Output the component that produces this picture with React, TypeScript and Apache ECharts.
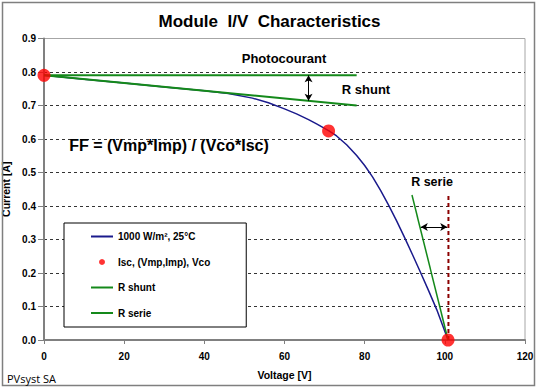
import React, { useEffect, useRef } from "react";
import * as echarts from "echarts";

const ivVoltage = [0, 10, 20, 30, 40, 46, 52, 56, 60, 63, 66, 68, 71, 73, 75.5, 78, 80, 82, 84, 86, 88, 90, 92, 94, 96, 98, 100.8];
const ivCurrent = [0.79, 0.7785, 0.767, 0.755, 0.744, 0.736, 0.722, 0.708, 0.69, 0.675, 0.658, 0.645, 0.625, 0.609, 0.583, 0.551, 0.521, 0.486, 0.446, 0.402, 0.355, 0.305, 0.253, 0.2, 0.146, 0.09, 0];

const keyPointsV = [0, 71, 100.8];
const keyPointsI = [0.79, 0.624, 0];

const shuntV = [0, 78];
const shuntI = [0.79, 0.7];
const photoV = [0, 78];
const photoI = [0.79, 0.79];
const serieV = [91.8, 100.8];
const serieI = [0.433, 0];
const vocLineV = [100.9, 100.9];
const vocLineI = [0, 0.43];

const arrowShunt = { v: 66, from: 0.79, to: 0.714 };
const arrowSerie = { i: 0.337, from: 94, to: 100.6 };

const xTicks = { min: 0, max: 120, interval: 20 };
const yTicks = { min: 0, max: 0.9, interval: 0.1 };

const seriesNames = ["1000 W/m², 25°C", "Isc, (Vmp,Imp), Vco", "R shunt", "R serie"];

const FONT = "Liberation Sans, Arial, sans-serif";
const GREEN = "#14891a";
const LINE_ICON = "path://M0,0L22,0L22,2L0,2Z";

function pairs(xs: number[], ys: number[]) {
  return xs.map((x, i) => [x, ys[i]]);
}

export default function App() {
  const ref = useRef<HTMLDivElement>(null);
  useEffect(() => {
    if (!ref.current) return;
    const chart = echarts.init(ref.current, null, { renderer: "svg" });
    const gridColors = ["transparent", "#333", "#333", "#333", "#333", "#333", "#333", "#333", "#333", "transparent"];
    chart.setOption({
      animation: false,
      backgroundColor: "#fff",
      title: {
        text: "Module  I/V  Characteristics",
        left: "center",
        top: 8,
        textStyle: { fontFamily: FONT, fontSize: 17, fontWeight: "bold", color: "#000" },
      },
      grid: {
        left: 44,
        right: 14,
        top: 38.5,
        bottom: 50,
        show: true,
        borderColor: "#a6a6a6",
        borderWidth: 1,
        backgroundColor: "transparent",
        containLabel: false,
        outerBoundsMode: "none",
      },
      legend: {
        orient: "vertical",
        left: 64,
        top: 223,
        data: [
          { name: seriesNames[0], icon: LINE_ICON },
          { name: seriesNames[1], icon: "circle" },
          { name: seriesNames[2], icon: LINE_ICON },
          { name: seriesNames[3], icon: LINE_ICON },
        ],
        selectedMode: false,
        itemWidth: 22,
        itemHeight: 6,
        itemGap: 13.5,
        padding: [7.5, 36, 8, 27],
        borderColor: "#000",
        borderWidth: 1,
        backgroundColor: "#fff",
        textStyle: { fontFamily: FONT, fontSize: 10, fontWeight: "bold", color: "#000", lineHeight: 12 },
      },
      xAxis: {
        type: "value",
        min: xTicks.min,
        max: xTicks.max,
        interval: xTicks.interval,
        name: "Voltage [V]",
        nameLocation: "middle",
        nameGap: 29,
        nameTextStyle: { fontFamily: FONT, fontSize: 10.5, fontWeight: "bold", color: "#000" },
        axisLine: { show: true, lineStyle: { color: "#808080", width: 2 } },
        axisTick: { show: true, length: 4, lineStyle: { color: "#808080" } },
        axisLabel: { fontFamily: FONT, fontSize: 10, fontWeight: "bold", color: "#000", margin: 11 },
        splitLine: { show: false },
      },
      yAxis: {
        type: "value",
        min: yTicks.min,
        max: yTicks.max,
        interval: yTicks.interval,
        name: "Current [A]",
        nameLocation: "middle",
        nameGap: 27,
        nameTextStyle: { fontFamily: FONT, fontSize: 10.5, fontWeight: "bold", color: "#000" },
        axisLine: { show: true, lineStyle: { color: "#808080", width: 2 } },
        axisTick: { show: true, length: 6, lineStyle: { color: "#808080" } },
        axisLabel: {
          fontFamily: FONT,
          fontSize: 10,
          fontWeight: "bold",
          color: "#000",
          margin: 8,
          formatter: (v: number) => v.toFixed(1),
        },
        splitLine: { show: true, lineStyle: { color: gridColors, type: [3, 3], width: 1 } },
      },
      graphic: [
        {
          type: "rect",
          shape: { x: 2.5, y: 2.5, width: 532, height: 383 },
          style: { fill: "none", stroke: "#7f7f7f", lineWidth: 1.5 },
          z: 100,
        },
        {
          type: "text",
          x: 284,
          y: 58,
          style: { text: "Photocourant", font: `bold 13px ${FONT}`, fill: "#000", align: "center", verticalAlign: "middle" },
          z: 100,
        },
        {
          type: "text",
          x: 366,
          y: 89,
          style: { text: "R shunt", font: `bold 13px ${FONT}`, fill: "#000", align: "center", verticalAlign: "middle" },
          z: 100,
        },
        {
          type: "text",
          x: 432,
          y: 182,
          style: { text: "R serie", font: `bold 12.5px ${FONT}`, fill: "#000", align: "center", verticalAlign: "middle" },
          z: 100,
        },
        {
          type: "text",
          x: 169,
          y: 145,
          style: { text: "FF = (Vmp*Imp) / (Vco*Isc)", font: `bold 16px ${FONT}`, fill: "#000", align: "center", verticalAlign: "middle" },
          z: 100,
        },
        {
          type: "text",
          x: 7,
          y: 378,
          style: { text: "PVsyst SA", font: `11px "Open Sans", sans-serif`, fill: "#000", align: "left", verticalAlign: "middle" },
          z: 100,
        },
      ],
      series: [
        {
          name: seriesNames[0],
          type: "line",
          data: pairs(ivVoltage, ivCurrent),
          smooth: false,
          symbol: "none",
          lineStyle: { color: "#1a1a8c", width: 1.5 },
          itemStyle: { color: "#1a1a8c" },
          z: 2,
        },
        {
          name: "Photocourant line",
          type: "line",
          data: pairs(photoV, photoI),
          symbol: "none",
          lineStyle: { color: GREEN, width: 2 },
          itemStyle: { color: GREEN },
          z: 3,
          markLine: {
            silent: true,
            symbol: ["arrow", "arrow"],
            symbolSize: [6, 7],
            label: { show: false },
            lineStyle: { color: "#000", type: "solid", width: 1 },
            data: [
              [{ coord: [arrowShunt.v, arrowShunt.from] }, { coord: [arrowShunt.v, arrowShunt.to] }],
              [{ coord: [arrowSerie.from, arrowSerie.i] }, { coord: [arrowSerie.to, arrowSerie.i] }],
            ],
          },
        },
        {
          name: seriesNames[2],
          type: "line",
          data: pairs(shuntV, shuntI),
          symbol: "none",
          lineStyle: { color: GREEN, width: 2 },
          itemStyle: { color: GREEN },
          z: 3,
        },
        {
          name: seriesNames[3],
          type: "line",
          data: pairs(serieV, serieI),
          symbol: "none",
          lineStyle: { color: GREEN, width: 1.5 },
          itemStyle: { color: GREEN },
          z: 3,
        },
        {
          name: "Voc line",
          type: "line",
          data: pairs(vocLineV, vocLineI),
          symbol: "none",
          lineStyle: { color: "#8b0000", width: 2, type: [4, 3] },
          z: 2,
        },
        {
          name: seriesNames[1],
          type: "scatter",
          data: pairs(keyPointsV, keyPointsI),
          symbol: "circle",
          symbolSize: 13,
          itemStyle: { color: "#ff0000" },
          z: 5,
        },
      ],
    });
    return () => chart.dispose();
  }, []);
  return <div ref={ref} style={{ position: "absolute", left: 0, top: 0, width: 539, height: 390 }} />;
}
